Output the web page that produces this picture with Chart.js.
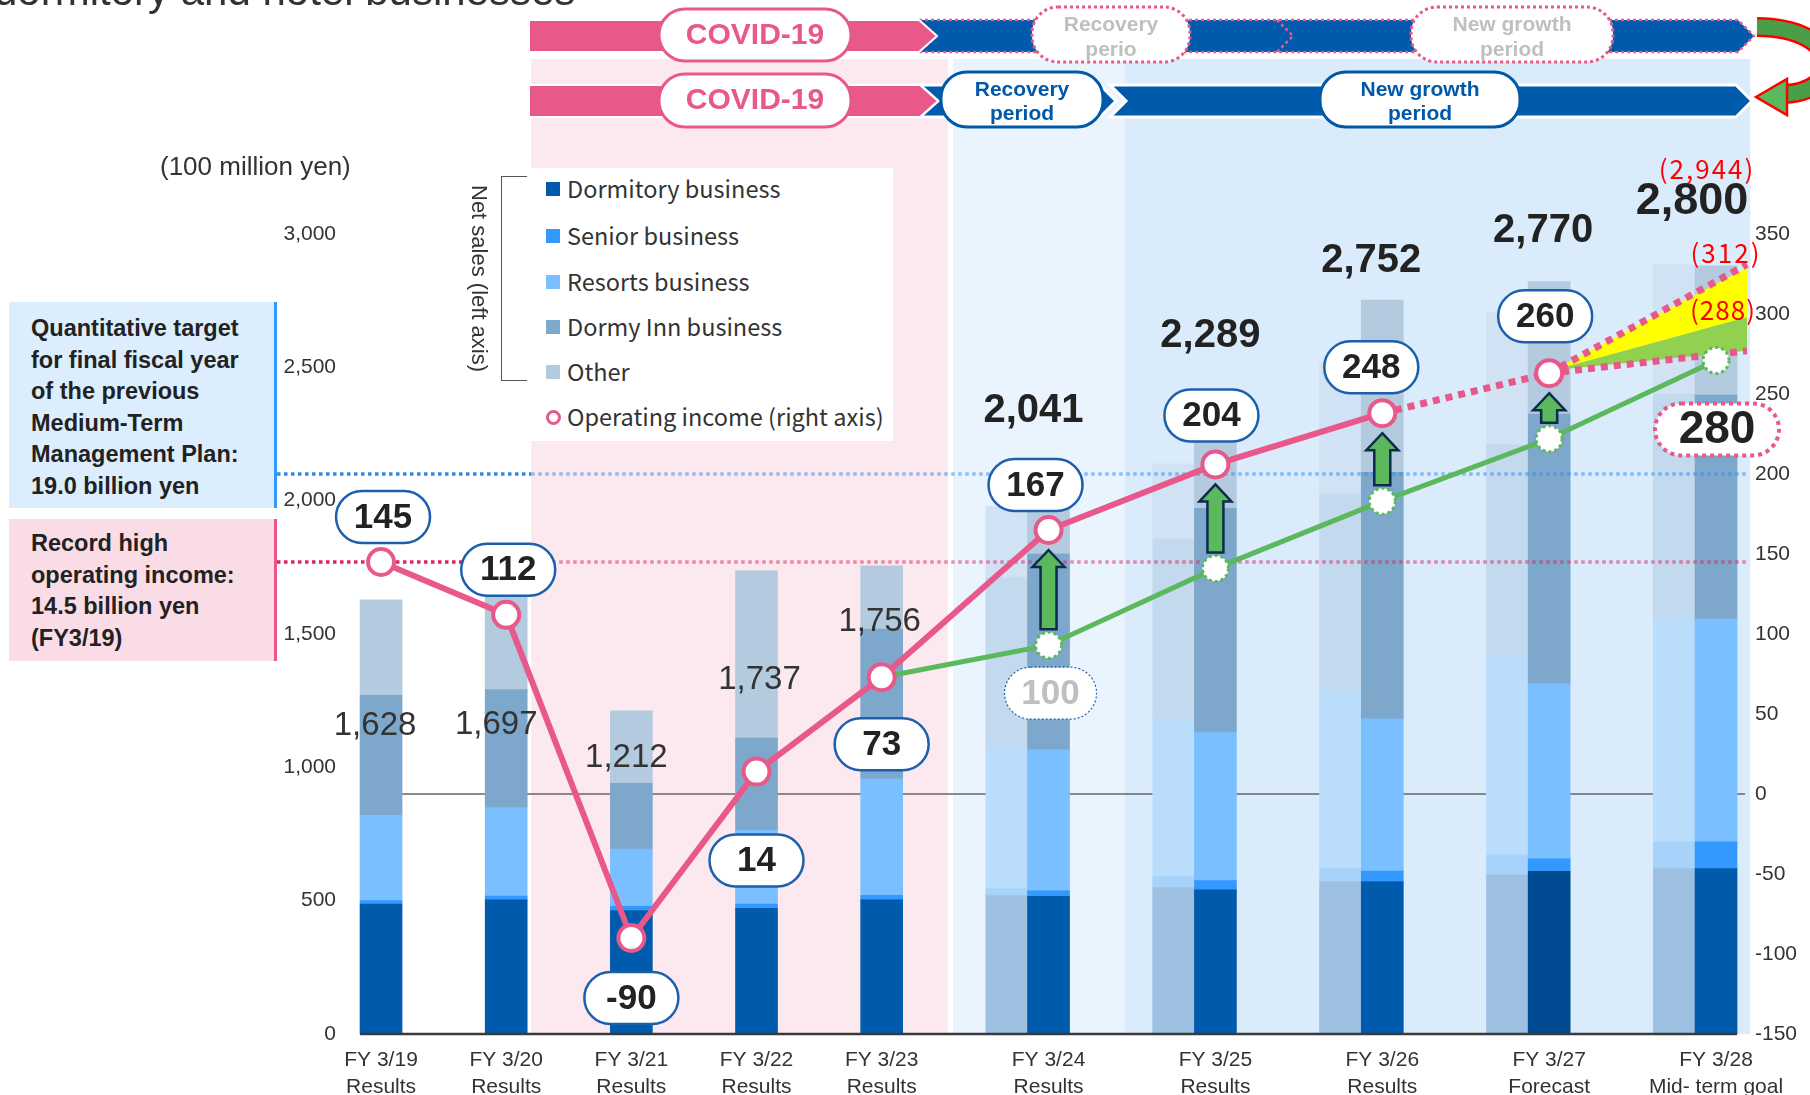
<!DOCTYPE html>
<html>
<head>
<meta charset="utf-8">
<script src="https://cdn.jsdelivr.net/npm/chart.js@4.4.1/dist/chart.umd.min.js"></script>
<style>
html,body{margin:0;padding:0;background:#fff;overflow:hidden}
#wrap{position:relative;width:1810px;height:1095px;font-family:"Liberation Sans",Arial,sans-serif;color:#333}
#c{position:absolute;left:0;top:0}
.ov{position:absolute;white-space:nowrap;z-index:2}
#title{left:-6px;top:-30px;font-size:42px;line-height:42px;color:#333}
#unit{left:160px;top:151px;font-size:26px;line-height:30px;color:#333}
.box{position:absolute;z-index:2;left:9px;width:268px;box-sizing:border-box;padding-left:22px;font-weight:bold;font-size:23.5px;line-height:31.5px;color:#222;white-space:nowrap}
#target{top:302px;height:206px;padding-top:11px;background:#dceefd;border-right:3px solid #3399ff}
#record{top:519px;height:142px;padding-top:9px;background:#fadce6;border-right:3px solid #e8588a}
#legend{left:531px;top:168px;width:362px;height:273px;background:#fff;font-family:"Noto Sans CJK JP","Noto Sans",sans-serif;font-size:23.5px;color:#333}
#legend .row{position:absolute;left:36px;height:30px;line-height:30px}
#legend .sq{position:absolute;left:15px;width:14px;height:14px}
#legend .dot{position:absolute;left:15px;width:9px;height:9px;border:3px solid #e8588a;border-radius:50%;background:#fff}
#bracket{left:501px;top:176px;width:26px;height:205px;border:1.5px solid #555;border-right:none;box-sizing:border-box}
#netsales{left:466px;top:176px;width:26px;height:205px;writing-mode:vertical-rl;font-size:22px;line-height:26px;text-align:center;color:#333}
</style>
</head>
<body>
<div id="wrap">
<canvas id="c" width="1810" height="1095"></canvas>
<div class="ov" id="title">dormitory and hotel businesses</div>
<div class="ov" id="unit">(100 million yen)</div>
<div class="box" id="target">Quantitative target<br>for final fiscal year<br>of the previous<br>Medium-Term<br>Management Plan:<br>19.0 billion yen</div>
<div class="box" id="record">Record high<br>operating income:<br>14.5 billion yen<br>(FY3/19)</div>
<div class="ov" id="bracket"></div>
<div class="ov" id="netsales">Net sales (left axis)</div>
<div class="ov" id="legend"></div>
</div>
<script>
// --- data (100 million yen) ---
const categories = [
  ['FY 3/19', 'Results'], ['FY 3/20', 'Results'], ['FY 3/21', 'Results'],
  ['FY 3/22', 'Results'], ['FY 3/23', 'Results'], ['FY 3/24', 'Results'],
  ['FY 3/25', 'Results'], ['FY 3/26', 'Results'], ['FY 3/27', 'Forecast'],
  ['FY 3/28', 'Mid- term goal']
];
// fiscal years sit closer together before FY3/24
const xPos = [0, 1, 2, 3, 4, 16 / 3, 20 / 3, 8, 28 / 3, 32 / 3];

const dormitory = [487, 503, 463, 471, 503, 516, 541, 572, 610, 620];
const senior    = [13, 14, 16, 16, 17, 21, 34, 39, 47, 101];
const resorts   = [320, 332, 214, 277, 437, 529, 555, 571, 657, 835];
const dormyInn  = [450, 443, 247, 346, 561, 734, 841, 924, 1011, 840];
const other     = [358, 405, 272, 627, 238, 241, 318, 646, 497, 485];

// faded bars beside FY3/24 - FY3/28
const ghostIdx       = [5, 6, 7, 8, 9];
const ghostDormitory = [519, 549, 572, 596, 620];
const ghostSenior    = [26, 41, 50, 76, 101];
const ghostResorts   = [532, 591, 665, 743, 838];
const ghostDormyInn  = [635, 675, 738, 794, 841];
const ghostOther     = [267, 282, 491, 497, 484];

// operating income (right axis)
const opIncome   = [145, 112, -90, 14, 73, 165, 206, 238, 263, null];
const planIncome = [null, null, null, null, 73, 93, 141, 183, 222, 271];
const outlookHigh = 331, outlookMid = 298, outlookLow = 277;
const targetLine = 200, recordLine = 145;

const salesText  = ['1,628', '1,697', '1,212', '1,737', '1,756', '2,041', '2,289', '2,752', '2,770', '2,800'];
const incomeText = ['145', '112', '-90', '14', '73', '167', '204', '248', '260'];
const planText   = {5: '100', 9: '280'};

const leftMin = 0, leftMax = 3000, leftStep = 500;
const rightMin = -150, rightMax = 350, rightStep = 50;

// --- legend (html) ---
const legendItems = [
  ['Dormitory business', '#005BAC'], ['Senior business', '#3399FF'],
  ['Resorts business', '#7ABFFF'], ['Dormy Inn business', '#7DA7CB'],
  ['Other', '#B3CADF'], ['Operating income (right axis)', null]
];
const legendRowY = [21, 68, 114, 159, 204, 249];
document.getElementById('legend').innerHTML = legendItems.map((it, i) => {
  const y = legendRowY[i];
  const mark = it[1] ? `<div class="sq" style="top:${y - 7}px;background:${it[1]}"></div>` : `<div class="dot" style="top:${y - 7}px"></div>`;
  return mark + `<div class="row" style="top:${y - 16}px">${it[0]}</div>`;
}).join('');

// --- helpers ---
const FONT = '"Liberation Sans", Arial, sans-serif';
const CJK = '"Noto Sans CJK JP", "Noto Sans", sans-serif';
const PINK = '#E8588A', BLUE = '#005BAC', GREEN = '#5CB85C';
const GHOST_SHIFT = 1 / 3;

const pts = (arr, xs) => arr.map((v, i) => ({x: xs[i], y: v}));
const ghostX = ghostIdx.map(i => xPos[i] - GHOST_SHIFT);

function chevron(ctx, x0, x1, y0, y1, notch, tip) {
  const m = (y0 + y1) / 2;
  ctx.beginPath();
  ctx.moveTo(x0, y0); ctx.lineTo(x1, y0); ctx.lineTo(x1 + tip, m);
  ctx.lineTo(x1, y1); ctx.lineTo(x0, y1); ctx.lineTo(x0 + notch, m);
  ctx.closePath();
}
function pill(ctx, x, y, w, h, stroke, lw, dash) {
  ctx.beginPath(); ctx.roundRect(x, y, w, h, Math.min(h / 2, 26));
  ctx.fillStyle = '#fff'; ctx.fill();
  ctx.setLineDash(dash || []); ctx.lineWidth = lw; ctx.strokeStyle = stroke; ctx.stroke();
  ctx.setLineDash([]);
}
function text(ctx, s, x, y, font, color, spacing) {
  ctx.font = font; ctx.fillStyle = color; ctx.textAlign = 'center'; ctx.textBaseline = 'middle';
  ctx.letterSpacing = spacing || '0px';
  ctx.fillText(s, x, y);
  ctx.letterSpacing = '0px';
}
function boxLabel(ctx, cx, cy, s, o) {
  const w = o.w || 94, h = o.h || 52;
  pill(ctx, cx - w / 2, cy - h / 2, w, h, o.border || '#1B5FAD', o.lw || 2.5, o.dash);
  text(ctx, s, cx, cy + 1, o.font || `bold 35px ${FONT}`, o.color || '#222');
}

function drawBanners(ctx) {
  // row 1: previous plan
  chevron(ctx, 919, 1738, 20, 52, 18, 16);
  ctx.fillStyle = BLUE; ctx.fill();
  ctx.setLineDash([3, 3]); ctx.lineWidth = 2.5; ctx.strokeStyle = PINK; ctx.stroke();
  ctx.beginPath(); ctx.moveTo(1277, 20); ctx.lineTo(1293, 36); ctx.lineTo(1277, 52); ctx.stroke();
  ctx.setLineDash([]);
  chevron(ctx, 529, 919, 20, 52, 0, 18);
  ctx.fillStyle = PINK; ctx.fill(); ctx.lineWidth = 2; ctx.strokeStyle = '#fff'; ctx.stroke();
  pill(ctx, 659, 9, 192, 52, PINK, 3);
  text(ctx, 'COVID-19', 755, 36, `bold 30px ${FONT}`, PINK);
  pill(ctx, 1032, 7, 158, 55, PINK, 3, [3, 3]);
  text(ctx, 'Recovery', 1111, 25, `bold 21px ${FONT}`, '#BFBFBF');
  text(ctx, 'perio', 1111, 50, `bold 21px ${FONT}`, '#BFBFBF');
  pill(ctx, 1411, 7, 202, 55, PINK, 3, [3, 3]);
  text(ctx, 'New growth', 1512, 25, `bold 21px ${FONT}`, '#BFBFBF');
  text(ctx, 'period', 1512, 50, `bold 21px ${FONT}`, '#BFBFBF');

  // row 2: current plan
  chevron(ctx, 1110, 1736, 85, 117, 16, 16);
  ctx.fillStyle = BLUE; ctx.fill(); ctx.lineWidth = 3; ctx.strokeStyle = '#fff'; ctx.stroke();
  chevron(ctx, 920, 1100, 85, 117, 18, 16);
  ctx.fillStyle = BLUE; ctx.fill(); ctx.lineWidth = 3; ctx.strokeStyle = '#fff'; ctx.stroke();
  chevron(ctx, 529, 920, 85, 117, 0, 18);
  ctx.fillStyle = PINK; ctx.fill(); ctx.lineWidth = 2; ctx.strokeStyle = '#fff'; ctx.stroke();
  pill(ctx, 659, 74, 192, 53, PINK, 3);
  text(ctx, 'COVID-19', 755, 101, `bold 30px ${FONT}`, PINK);
  pill(ctx, 941, 72, 162, 55, '#0058A8', 3);
  text(ctx, 'Recovery', 1022, 90, `bold 21px ${FONT}`, '#0058A8');
  text(ctx, 'period', 1022, 114, `bold 21px ${FONT}`, '#0058A8');
  pill(ctx, 1320, 72, 200, 55, '#0058A8', 3);
  text(ctx, 'New growth', 1420, 90, `bold 21px ${FONT}`, '#0058A8');
  text(ctx, 'period', 1420, 114, `bold 21px ${FONT}`, '#0058A8');

  // curved arrow from row 1 to row 2
  ctx.beginPath();
  ctx.moveTo(1757, 27); ctx.bezierCurveTo(1845, 28, 1845, 92, 1784, 94);
  ctx.lineWidth = 20; ctx.strokeStyle = '#f00'; ctx.lineCap = 'butt'; ctx.stroke();
  ctx.lineWidth = 15; ctx.strokeStyle = '#4A9E47'; ctx.stroke();
  ctx.beginPath();
  ctx.moveTo(1756, 97); ctx.lineTo(1787, 79); ctx.lineTo(1787, 115); ctx.closePath();
  ctx.fillStyle = '#5CB85C'; ctx.fill(); ctx.lineWidth = 2.5; ctx.strokeStyle = '#f00'; ctx.stroke();
}

// background periods in x units: covid, recovery, new growth
const REGIONS = [[1.2, 4.53, '#FCE9EF'], [4.57, 5.94, '#EAF4FE'], [5.94, 10.94, '#DAEBFB']];
const salesOffset = [[-6, 126], [-10, 143], [-5, 47], [3, 109], [-2, 56], [-15, -79], [-5, -88], [-11, -39], [-6, -50], [-24, -64]];
const incomeOffset = [[2, -45], [2, -45], [0, 60], [0, 89], [0, 67], [-13, -45], [-4, -49], [-11, -46], [-4, -57]];

let linesStarted = false;
const decor = {
  id: 'decor',
  beforeDraw(chart) {
    const {ctx, chartArea: a, scales: {x}} = chart;
    ctx.save();
    REGIONS.forEach(([x0, x1, c]) => {
      const p0 = x.getPixelForValue(x0), p1 = x.getPixelForValue(x1);
      ctx.fillStyle = c; ctx.fillRect(p0, 59, p1 - p0, a.bottom - 59);
    });
    drawBanners(ctx);
    ctx.restore();
  },
  beforeDatasetsDraw(chart) {
    linesStarted = false;
    const {ctx, chartArea: a, scales: {x, y1}} = chart;
    const yz = y1.getPixelForValue(0);
    ctx.save();
    ctx.beginPath(); ctx.moveTo(x.getPixelForValue(xPos[0]), yz); ctx.lineTo(a.right - 4, yz);
    ctx.lineWidth = 1.5; ctx.strokeStyle = '#666'; ctx.stroke();
    ctx.restore();
  },
  beforeDatasetDraw(chart, args) {
    if (args.meta.type !== 'line' || linesStarted) return;
    linesStarted = true;
    const {ctx, chartArea: a, scales: {x, y1}} = chart;
    const split = x.getPixelForValue(REGIONS[0][0]);
    ctx.save();
    // reference lines
    [[targetLine, '46,139,232'], [recordLine, '224,36,94']].forEach(([v, rgb]) => {
      const yy = y1.getPixelForValue(v);
      ctx.lineWidth = 3.5; ctx.setLineDash([3.5, 3.5]);
      ctx.strokeStyle = `rgb(${rgb})`;
      ctx.beginPath(); ctx.moveTo(277, yy); ctx.lineTo(split, yy); ctx.stroke();
      ctx.strokeStyle = `rgba(${rgb},0.5)`;
      ctx.beginPath(); ctx.moveTo(split, yy); ctx.lineTo(a.right, yy); ctx.stroke();
    });
    ctx.setLineDash([]);
    // outlook fan from the FY3/27 forecast
    const pm = chart.getDatasetMeta(0).data[8];
    const xr = a.right - 2;
    const yH = y1.getPixelForValue(outlookHigh), yM = y1.getPixelForValue(outlookMid), yL = y1.getPixelForValue(outlookLow);
    ctx.beginPath(); ctx.moveTo(pm.x + 4, pm.y - 3); ctx.lineTo(xr, yH + 3); ctx.lineTo(xr, yM); ctx.closePath();
    ctx.fillStyle = '#FFFF00'; ctx.fill();
    ctx.beginPath(); ctx.moveTo(pm.x + 4, pm.y - 3); ctx.lineTo(xr, yM); ctx.lineTo(xr, yL); ctx.closePath();
    ctx.fillStyle = '#92D050'; ctx.fill();
    ctx.lineWidth = 7; ctx.setLineDash([7, 6]); ctx.strokeStyle = PINK;
    [yH, yL].forEach(ye => { ctx.beginPath(); ctx.moveTo(pm.x, pm.y); ctx.lineTo(xr, ye); ctx.stroke(); });
    ctx.setLineDash([]);
    // green improvement arrows
    const pink = chart.getDatasetMeta(0).data, plan = chart.getDatasetMeta(1).data;
    [5, 6, 7, 8].forEach(i => {
      const cx = pink[i].x, top = pink[i].y + 20, bot = plan[i].y - 16;
      ctx.beginPath();
      ctx.moveTo(cx, top); ctx.lineTo(cx + 16, top + 17); ctx.lineTo(cx + 8, top + 17); ctx.lineTo(cx + 8, bot);
      ctx.lineTo(cx - 8, bot); ctx.lineTo(cx - 8, top + 17); ctx.lineTo(cx - 16, top + 17); ctx.closePath();
      ctx.fillStyle = GREEN; ctx.fill(); ctx.lineWidth = 2.5; ctx.strokeStyle = '#0D2B4E'; ctx.stroke();
    });
    ctx.restore();
  },
  afterDatasetsDraw(chart) {
    const {ctx, scales: {x, y}} = chart;
    ctx.save();
    // base line
    ctx.beginPath(); ctx.moveTo(x.getPixelForValue(xPos[0]) - 21, y.bottom); ctx.lineTo(x.getPixelForValue(xPos[9]) + 21, y.bottom);
    ctx.lineWidth = 2.5; ctx.strokeStyle = '#3a3a3a'; ctx.stroke();
    // plan markers
    const plan = chart.getDatasetMeta(1).data;
    [5, 6, 7, 8, 9].forEach(i => {
      ctx.beginPath(); ctx.arc(plan[i].x, plan[i].y, 13, 0, Math.PI * 2);
      ctx.fillStyle = '#fff'; ctx.fill();
      ctx.setLineDash([3, 3]); ctx.lineWidth = 3; ctx.strokeStyle = GREEN; ctx.stroke();
    });
    ctx.setLineDash([]);
    // net sales labels
    salesText.forEach((s, i) => {
      const total = dormitory[i] + senior[i] + resorts[i] + dormyInn[i] + other[i];
      const px = x.getPixelForValue(xPos[i]) + salesOffset[i][0], py = y.getPixelForValue(total) + salesOffset[i][1];
      const font = i < 5 ? `33px ${FONT}` : (i === 9 ? `bold 45px ${FONT}` : `bold 40px ${FONT}`);
      text(ctx, s, px, py, font, i < 5 ? '#333' : '#222');
    });
    const totalLast = dormitory[9] + senior[9] + resorts[9] + dormyInn[9] + other[9];
    text(ctx, '(2,944)', x.getPixelForValue(xPos[9]) - 9, y.getPixelForValue(totalLast) - 97, `26px ${CJK}`, '#FF0000', '2px');
    const y1 = chart.scales.y1, ar = chart.chartArea.right;
    text(ctx, '(312)', ar - 23, y1.getPixelForValue(outlookHigh) - 11, `26px ${CJK}`, '#FF0000', '2px');
    text(ctx, '(288)', ar - 26, y1.getPixelForValue(outlookMid) - 7, `26px ${CJK}`, '#FF0000', '1px');
    // operating income labels
    const pink = chart.getDatasetMeta(0).data;
    incomeText.forEach((s, i) => {
      boxLabel(ctx, pink[i].x + incomeOffset[i][0], pink[i].y + incomeOffset[i][1], s, {});
    });
    boxLabel(ctx, plan[5].x + 2, plan[5].y + 48, planText[5], {w: 92, h: 52, border: '#1B5FAD', lw: 1.2, dash: [2, 2], color: '#BFBFBF', font: `bold 35px ${FONT}`});
    boxLabel(ctx, plan[9].x + 1, plan[9].y + 69, planText[9], {w: 124, h: 52, border: PINK, lw: 4, dash: [4, 4], font: `bold 46px ${FONT}`});
    ctx.restore();
  }
};

const barBase = {type: 'bar', xAxisID: 'x', yAxisID: 'y', barThickness: 42, borderWidth: 0, order: 3};
const mainBars = [
  [dormitory, ctx => ctx.dataIndex === 8 ? '#004B91' : '#005BAC'],
  [senior, '#3399FF'], [resorts, '#7ABFFF'], [dormyInn, '#7DA7CB'], [other, '#B3CADF']
].map(([d, c]) => Object.assign({}, barBase, {data: pts(d, xPos), backgroundColor: c}));
const ghostBars = [
  [ghostDormitory, '#9DC0E2'], [ghostSenior, '#A7D3FB'], [ghostResorts, '#BBDDFC'],
  [ghostDormyInn, '#C3D9EE'], [ghostOther, '#D0E2F3']
].map(([d, c]) => Object.assign({}, barBase, {data: pts(d, ghostX), backgroundColor: c}));

new Chart(document.getElementById('c'), {
  data: {
    datasets: [
      {type: 'line', label: 'Operating income', data: pts(opIncome, xPos), xAxisID: 'x', yAxisID: 'y1',
       borderColor: PINK, borderWidth: 6, pointRadius: 13, pointBorderWidth: 4, pointBackgroundColor: '#fff',
       pointBorderColor: PINK, order: 0, clip: false,
       segment: {borderDash: c => c.p0DataIndex >= 7 ? [7, 6] : undefined, borderWidth: c => c.p0DataIndex >= 7 ? 7 : 6}},
      {type: 'line', label: 'Plan', data: pts(planIncome, xPos), xAxisID: 'x', yAxisID: 'y1',
       borderColor: GREEN, borderWidth: 5, pointRadius: 0, order: 1, clip: false},
      ...mainBars, ...ghostBars
    ]
  },
  options: {
    responsive: false, animation: false, devicePixelRatio: 1, events: [],
    layout: {padding: {top: 234, left: 0, right: 0, bottom: 0}},
    plugins: {legend: {display: false}, tooltip: {enabled: false}},
    scales: {
      x: {type: 'linear', min: -0.28, max: 10.93, bounds: 'data', stacked: true, offset: false,
          grid: {display: false, drawTicks: false, offset: false}, border: {display: false},
          afterBuildTicks: s => { s.ticks = xPos.map(v => ({value: v})); },
          afterFit: s => { s.height = 61; },
          ticks: {autoSkip: false, maxRotation: 0, padding: 13, color: '#333',
                  font: {family: FONT, size: 21, lineHeight: 1.29},
                  callback: (v, i) => categories[i]}},
      y: {type: 'linear', position: 'left', stacked: true, min: leftMin, max: leftMax,
          grid: {display: false, drawTicks: false}, border: {display: false},
          afterFit: s => { s.width = 346; },
          ticks: {stepSize: leftStep, padding: 10, color: '#333', font: {family: FONT, size: 21},
                  callback: v => v.toLocaleString('en-US')}},
      y1: {type: 'linear', position: 'right', min: rightMin, max: rightMax,
           grid: {display: false, drawTicks: false}, border: {display: false},
           afterFit: s => { s.width = 61; },
           ticks: {stepSize: rightStep, padding: 6, color: '#333', font: {family: FONT, size: 21}}}
    }
  },
  plugins: [decor]
});
</script>
</body>
</html>
